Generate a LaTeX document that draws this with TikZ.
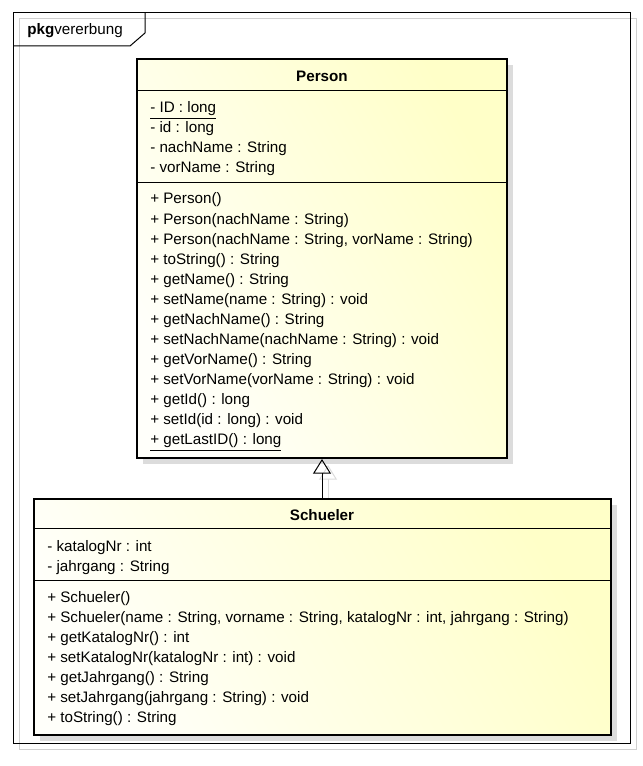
\documentclass[tikz,border=0pt]{standalone}
\usepackage{fontspec}
\setmainfont{Liberation Sans}
\usetikzlibrary{arrows.meta,positioning,calc,shadows,backgrounds}

\definecolor{umllight}{HTML}{FFFFFA}
\definecolor{umlyellow}{HTML}{FFFFC8}
\definecolor{shadowgrey}{HTML}{DCDCDC}
\definecolor{framegrey}{HTML}{D0D0D0}

\begin{document}
\begin{tikzpicture}[x=0.75pt,y=-0.75pt,font=\fontsize{11.4}{15}\selectfont]
\tikzstyle{member}=[anchor=base west,inner sep=0]
\tikzstyle{class name}=[font=\fontsize{11.4}{15}\selectfont\bfseries,inner sep=0]
\tikzset{
  class box/.style = {rectangle,draw=black,line width=1.5pt,inner sep=0,
    left color=umllight,right color=umlyellow,shading angle=120,
    drop shadow={opacity=1,fill=shadowgrey,shadow xshift=4.5pt,shadow yshift=-4.5pt}},
  sep line/.style = {line width=0.75pt},
  inherit/.style = {-{Triangle[open,length=11pt,width=13.5pt,line width=0.75pt]},line width=0.75pt}
}
\useasboundingbox (0,0) rectangle (642,766);

% package frame
\draw[framegrey,line width=0.75pt] (19,19) rectangle (636,749);
\node[rectangle,draw,line width=0.75pt,minimum width=462.75pt,minimum height=547.5pt,inner sep=0] (pkg) at (321.5,378) {};
\draw[line width=0.75pt] (13,46) -- (130,46) -- (145,33) -- (145,13);
\node[anchor=west,inner sep=0] (pkglabel) at (27,31) {\textbf{pkg}vererbung};

% classes
\node[class box,minimum width=277.5pt,minimum height=299.25pt] (person) at (322,258.5) {};
\node[class box,minimum width=432.75pt,minimum height=177pt] (schueler) at (322.5,617) {};

\draw[sep line] (person.west |- 0,91) -- (person.east |- 0,91);
\draw[sep line] (person.west |- 0,183) -- (person.east |- 0,183);
\draw[sep line] (schueler.west |- 0,528) -- (schueler.east |- 0,528);
\draw[sep line] (schueler.west |- 0,580) -- (schueler.east |- 0,580);

\node[class name] (personname) at (322,76) {Person};
\node[class name] (schuelername) at (322,515) {Schueler};

%% Person members
\foreach \txt [count=\i from 0] in {{\underline{- ID : long}},{- id : long},{- nachName : String},{- vorName : String}}
  \node[member] (pa\i) at (150,113+20*\i) {\txt};
\foreach \txt [count=\i from 0] in {{+ Person()},{+ Person(nachName : String)},
    {+ Person(nachName : String, vorName : String)},{+ toString() : String},
    {+ getName() : String},{+ setName(name : String) : void},{+ getNachName() : String},
    {+ setNachName(nachName : String) : void},{+ getVorName() : String},
    {+ setVorName(vorName : String) : void},{+ getId() : long},{+ setId(id : long) : void},
    {\underline{+ getLastID() : long}}}
  \node[member] (pm\i) at (150,204+20.08*\i) {\txt};

%% Schueler members
\foreach \txt [count=\i from 0] in {{- katalogNr : int},{- jahrgang : String}}
  \node[member] (sa\i) at (47,551+20*\i) {\txt};
\foreach \txt [count=\i from 0] in {{+ Schueler()},
    {+ Schueler(name : String, vorname : String, katalogNr : int, jahrgang : String)},
    {+ getKatalogNr() : int},{+ setKatalogNr(katalogNr : int) : void},
    {+ getJahrgang() : String},{+ setJahrgang(jahrgang : String) : void},{+ toString() : String}}
  \node[member] (sm\i) at (47,602+20*\i) {\txt};

% generalization
\begin{scope}[on background layer]
\draw[inherit,shadowgrey] ($(person.south |- schueler.north)+(6,6)$) -- ($(person.south)+(6,6)$);
\end{scope}
\draw[inherit] (person.south |- schueler.north) -- (person.south);
\end{tikzpicture}
\end{document}
